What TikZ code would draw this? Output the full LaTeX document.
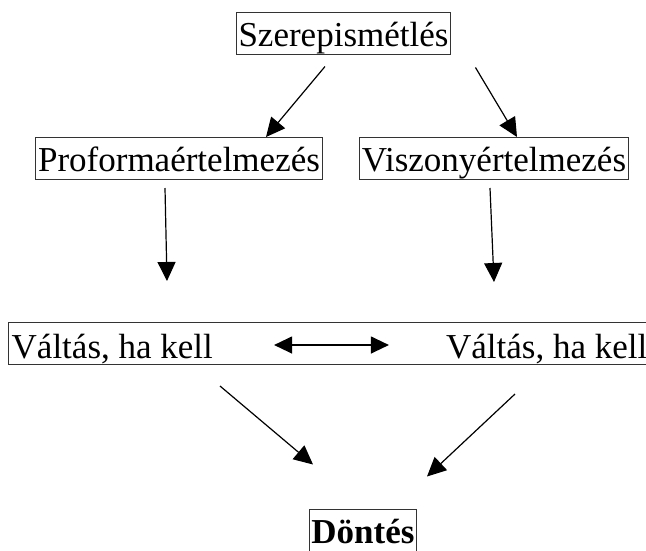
\documentclass[tikz,border=0pt]{standalone}
\usepackage{fontspec}
\setmainfont{Liberation Serif}
\usepackage{tikz}
\usetikzlibrary{arrows.meta}
\usetikzlibrary{positioning}
\tikzstyle{step_text}=[inner sep=0pt, text height=33pt, text depth=7pt,
    font=\fontsize{35}{40}\selectfont]
\tikzstyle{step_box}=[step_text, draw=black!80, line width=1pt,
    inner xsep=2.5pt, inner ysep=1pt]
\tikzstyle{step_arrow}=[line width=1.2pt, -{Triangle[length=19pt,width=18pt]}]
\tikzstyle{swap_arrow}=[line width=1.2pt,
    {Triangle[length=18pt,width=17pt]}-{Triangle[length=18pt,width=17pt]}]

\begin{document}
\begin{tikzpicture}[x=1pt,y=-1pt]
          \useasboundingbox (0,0) rectangle (646,550);
          \node[step_box] (sz) at (343.5,33){Szerepismétlés};
          \node[step_box] (pf) at (179,158.5){Proformaértelmezés};
          \node[step_box] (vi) at (494,158.5){Viszonyértelmezés};
          \node[step_box, minimum width=642pt, minimum height=41pt] (row) at (329,343.5){};
          \node[step_text, anchor=base west] (va1) at ([shift={(4,14.5)}]row.west){Váltás, ha kell};
          \node[step_text, anchor=base east] (va2) at ([shift={(-3,14.5)}]row.east){Váltás, ha kell};
          \node[step_box, inner xsep=1.5pt, font=\fontsize{35}{40}\selectfont\bfseries] (dn) at (363,530){Döntés};
          \draw[step_arrow] ([shift={(-18.5,12)}]sz.south) -- ([shift={(87,0)}]pf.north);
          \draw[step_arrow] ([shift={(24,13)}]sz.south east) -- ([shift={(23,0)}]vi.north);
          \draw[step_arrow] ([shift={(-14,8)}]pf.south) -- ([shift={(-162,-41)}]row.north);
          \draw[step_arrow] ([shift={(-4,8)}]vi.south) -- ([shift={(165,-40)}]row.north);
          \draw[swap_arrow, shorten <=61pt, shorten >=57pt] (va1.east) -- (va2.west);
          \draw[step_arrow] ([shift={(-109,21)}]row.south) -- ([shift={(-50,-44)}]dn.north);
          \draw[step_arrow] ([shift={(186,29)}]row.south) -- ([shift={(64,-32)}]dn.north);
        \end{tikzpicture}
\end{document}
